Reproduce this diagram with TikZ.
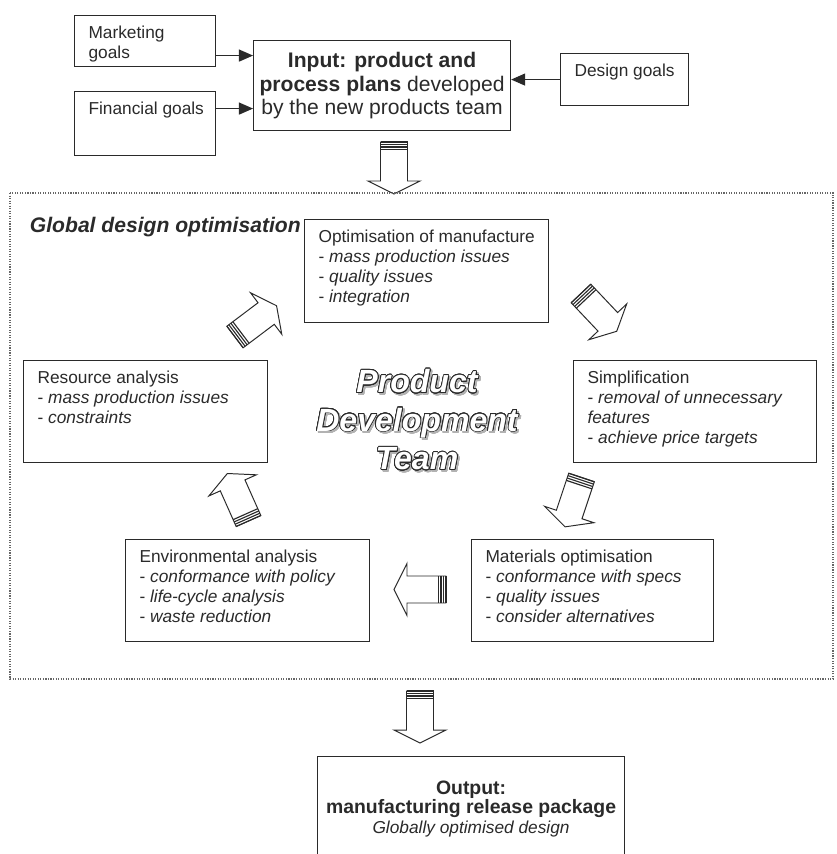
\documentclass[tikz,border=0pt]{standalone}
\usepackage{fontspec}
\setmainfont{Liberation Sans}
\usepackage{contour}
\usetikzlibrary{arrows.meta}

\definecolor{ink}{HTML}{2A2A2A}
\newlength\px
\setlength\px{0.025cm}
\newcommand\boxfont{\fontsize{12.3}{14.3}\selectfont}
% text blocks filling a box of W x H pixels, top aligned or centred
\newcommand\boxtext[3]{\parbox[c][\dimexpr#2\px-20\px\relax][t]{\dimexpr#1\px-8\px\relax}{\raggedright\leftskip=10\px #3}}
\newcommand\midtext[3]{\parbox[c][\dimexpr#2\px-20\px\relax][c]{\dimexpr#1\px-4\px\relax}{\centering #3}}
% outlined lettering with a grey drop shadow
\contourlength{0.55pt}
\contournumber{24}
\newcommand\hollow[1]{\makebox[0pt][l]{\hspace{1.3pt}\raisebox{-1.3pt}{\contour{gray!60}{\textcolor{gray!60}{#1}}}}\contour{ink}{\textcolor{white}{#1}}}

\tikzset{
	stagebox/.style={draw=ink, line width=0.8pt, anchor=north west, inner xsep=1mm, inner ysep=2.5mm, text=ink, font=\boxfont},
	feed/.style={draw=ink, line width=0.8pt, -{Triangle[length=3.5mm,width=3mm]}},
	fatarrow/.pic={
		\draw[ink, line width=0.7pt, fill=white, line join=miter] (0,-13.5) -- (39,-13.5) -- (39,-26) -- (52,0) -- (39,26) -- (39,13.5) -- (0,13.5) -- cycle;
		\foreach \s in {0,2.5,5,7.5}{
			\draw[ink, line width=0.8pt] (\s,-13.5) -- (\s,13.5);
		}
	}
}

\begin{document}
\begin{tikzpicture}[x=0.025cm, y=-0.025cm]
	\useasboundingbox (0,0) rectangle (836,854);
	\clip (0,0) rectangle (836,854);
	
	%goals feeding the plans
	\node[stagebox] (mkt) at (74,15) {\boxtext{141}{51}{Marketing\\goals}};
	\node[stagebox] (fin) at (74,91) {\boxtext{141}{64}{Financial goals}};
	\node[stagebox] (des) at (560,53) {\boxtext{128}{52}{Design goals}};
	\node[stagebox, inner xsep=0.5mm, font=\fontsize{15}{16.6}\selectfont] (inp) at (253,40) {\midtext{257}{90}{\textbf{Input: product and}\\\textbf{process plans} developed\\by the new products team}};
	
	\draw[feed] ([yshift=-14.5\px]mkt.east) -- ([yshift=-14.5\px]mkt.east -| inp.west);
	\draw[feed] ([yshift=15\px]fin.east) -- ([yshift=15\px]fin.east -| inp.west);
	\draw[feed] (des.west) -- (des.west -| inp.east);
	
	\pic[rotate=-90] at (394,142) {fatarrow};
	
	%team frame
	\draw[gray!80!black, line width=0.8pt, densely dotted] (10,193) rectangle (833,679);
	\node[anchor=base west, text=ink, font=\fontsize{15}{18}\selectfont\bfseries\itshape] (gdo) at (25,232) {Global design optimisation};
	
	\node[stagebox] (opt) at (304,219) {\boxtext{244}{103}{Optimisation of manufacture\\- \textit{mass production issues}\\- \textit{quality issues}\\- \textit{integration}}};
	\node[stagebox] (sim) at (573,360) {\boxtext{243}{102}{Simplification\\- \textit{removal of unnecessary}\\\textit{features}\\- \textit{achieve price targets}}};
	\node[stagebox] (mat) at (471,539) {\boxtext{242}{102}{Materials optimisation\\- \textit{conformance with specs}\\- \textit{quality issues}\\- \textit{consider alternatives}}};
	\node[stagebox] (env) at (125,539) {\boxtext{244}{102}{Environmental analysis\\- \textit{conformance with policy}\\- \textit{life-cycle analysis}\\- \textit{waste reduction}}};
	\node[stagebox] (res) at (23,360) {\boxtext{244}{102}{Resource analysis\\- \textit{mass production issues}\\- \textit{constraints}}};
	
	\node[align=center, font=\fontsize{22.8}{27.4}\selectfont\bfseries\itshape] (pdt) at (417,421) {\hollow{Product}\\\hollow{Development}\\\hollow{Team}};
	
	%cycle round the team
	\pic[rotate=-46.6] at (581,293.5) {fatarrow};
	\pic[rotate=251.6] at (581.5,477.5) {fatarrow};
	\pic[rotate=180] at (446,589.5) {fatarrow};
	\pic[rotate=114] at (248.5,521) {fatarrow};
	\pic[rotate=37] at (235,337) {fatarrow};
	
	%release
	\pic[rotate=-90] at (420,691) {fatarrow};
	\node[stagebox, inner xsep=0.5mm, inner ysep=6mm] (out) at (317,756) {\parbox[c][76\px][t]{303\px}{\centering{\fontsize{13.8}{14}\selectfont\bfseries Output:\\manufacturing release package\\}\textit{Globally optimised design}}};
\end{tikzpicture}
\end{document}
